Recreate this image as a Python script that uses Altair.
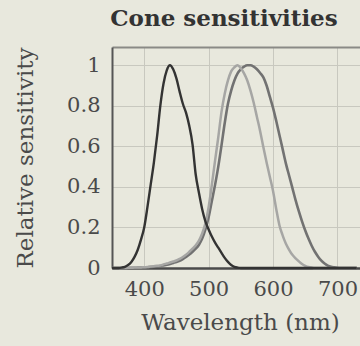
import altair as alt
import pandas as pd

wavelengths = [350, 355, 360, 365, 370, 375, 380, 385, 390, 395,
               400, 405, 410, 415, 420, 425, 430, 435, 440, 445,
               450, 455, 460, 465, 470, 475, 480, 485, 490, 495,
               500, 505, 510, 515, 520, 525, 530, 535, 540, 545,
               550, 555, 560, 565, 570, 575, 580, 585, 590, 595,
               600, 605, 610, 615, 620, 625, 630, 635, 640, 645,
               650, 655, 660, 665, 670, 675, 680, 685, 690, 695,
               700, 705, 710, 715, 720, 725, 730]

s_cone = [0, 0, 0, 0.002, 0.006, 0.015, 0.03, 0.055, 0.09, 0.14,
          0.20, 0.30, 0.41, 0.52, 0.65, 0.80, 0.91, 0.975, 1.0, 0.98,
          0.935, 0.87, 0.81, 0.765, 0.70, 0.61, 0.46, 0.37, 0.29, 0.23,
          0.19, 0.155, 0.125, 0.10, 0.075, 0.05, 0.03, 0.015, 0.006, 0.002,
          0, 0, 0, 0, 0, 0, 0, 0, 0, 0,
          0, 0, 0, 0, 0, 0, 0, 0, 0, 0,
          0, 0, 0, 0, 0, 0, 0, 0, 0, 0,
          0, 0, 0, 0, 0, 0, 0]

m_cone = [0, 0, 0, 0, 0, 0.001, 0.001, 0.002, 0.002, 0.003,
          0.004, 0.005, 0.007, 0.009, 0.011, 0.012, 0.018, 0.022, 0.027, 0.032,
          0.037, 0.045, 0.054, 0.066, 0.08, 0.095, 0.112, 0.135, 0.17, 0.22,
          0.30, 0.41, 0.53, 0.645, 0.77, 0.86, 0.925, 0.97, 0.99, 1.0,
          0.985, 0.96, 0.925, 0.875, 0.815, 0.745, 0.675, 0.595, 0.52, 0.45,
          0.38, 0.29, 0.21, 0.16, 0.12, 0.09, 0.065, 0.048, 0.033, 0.02,
          0.011, 0.005, 0.002, 0, 0, 0, 0, 0, 0, 0,
          0, 0, 0, 0, 0, 0, 0]

l_cone = [0, 0, 0, 0, 0, 0, 0.001, 0.001, 0.002, 0.002,
          0.003, 0.004, 0.005, 0.006, 0.008, 0.01, 0.013, 0.016, 0.02, 0.025,
          0.03, 0.036, 0.044, 0.054, 0.066, 0.08, 0.095, 0.115, 0.145, 0.19,
          0.25, 0.33, 0.41, 0.50, 0.605, 0.715, 0.81, 0.875, 0.925, 0.96,
          0.98, 0.993, 1.0, 1.0, 0.993, 0.98, 0.962, 0.94, 0.90, 0.845,
          0.79, 0.725, 0.655, 0.585, 0.515, 0.455, 0.395, 0.335, 0.28, 0.23,
          0.185, 0.145, 0.11, 0.08, 0.056, 0.036, 0.022, 0.012, 0.006, 0.003,
          0.001, 0, 0, 0, 0, 0, 0]

cone_names = ["L", "M", "S"]
cone_colors = ["#727272", "#a6a6a4", "#333333"]
cone_widths = [2.6, 2.4, 2.8]
x_ticks = [400, 500, 600, 700]
y_ticks = [0, 0.2, 0.4, 0.6, 0.8, 1.0, 1.09]

rows = []
for name, vals in zip(cone_names, [l_cone, m_cone, s_cone]):
    for w, v in zip(wavelengths, vals):
        rows.append({"cone": name, "wavelength": w, "sensitivity": v})
df = pd.DataFrame(rows)

serif = "DejaVu Serif"

chart = alt.Chart(df).mark_line(interpolate="monotone").encode(
    x=alt.X(
        "wavelength:Q",
        scale=alt.Scale(domain=[350, 735], nice=False, zero=False),
        axis=alt.Axis(
            values=x_ticks, title="Wavelength (nm)", ticks=False, tickSize=0,
            labelFont=serif, labelFontSize=21, labelColor="#4a4a4a", labelPadding=10,
            titleFont=serif, titleFontSize=23, titleFontWeight="normal",
            titleColor="#4a4a4a", titlePadding=12, titleX=128,
            domainColor="#4a4a4a", domainWidth=2.5,
            gridColor="#c8c8bf", gridWidth=1,
        ),
    ),
    y=alt.Y(
        "sensitivity:Q",
        scale=alt.Scale(domain=[0, 1.09], nice=False),
        axis=alt.Axis(
            values=y_ticks, title="Relative sensitivity", ticks=False, tickSize=0,
            labelExpr="datum.value > 1.05 ? '' : format(datum.value, '~g')",
            labelFont=serif, labelFontSize=21, labelColor="#4a4a4a", labelPadding=12,
            titleFont=serif, titleFontSize=23, titleFontWeight="normal",
            titleColor="#4a4a4a", titlePadding=29,
            domainColor="#555555", domainWidth=2,
            gridColor={"condition": {"test": "datum.value > 1.05", "value": "#8a8a86"}, "value": "#c8c8bf"},
            gridWidth={"condition": {"test": "datum.value > 1.05", "value": 2}, "value": 1},
        ),
    ),
    color=alt.Color("cone:N", scale=alt.Scale(domain=cone_names, range=cone_colors), legend=None),
    strokeWidth=alt.StrokeWidth("cone:N", scale=alt.Scale(domain=cone_names, range=cone_widths), legend=None),
).properties(
    width=248,
    height=221,
    title=alt.Title("Cone sensitivities", font=serif, fontSize=23, fontWeight="bold",
                    color="#333333", anchor="middle", dx=-12, dy=22,
                    baseline="alphabetic", offset=20),
    padding={"left": 112, "top": 47, "right": 0, "bottom": 78},
    autosize="none",
    background="#e8e8dd",
).configure_view(stroke=None)

chart.save("out.html", embed_options={"renderer": "svg", "actions": False})
